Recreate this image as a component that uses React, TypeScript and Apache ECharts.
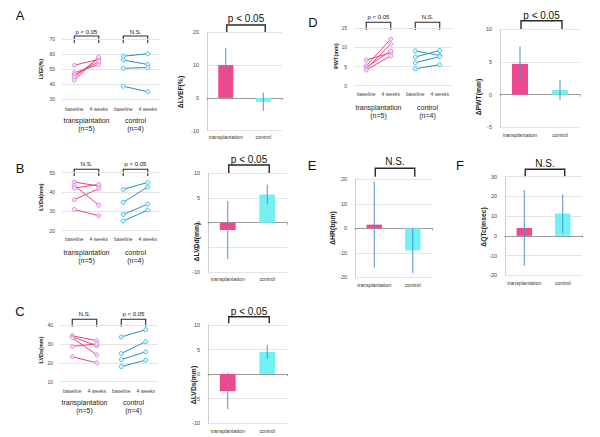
import React, { useEffect, useRef } from "react";
import * as echarts from "echarts";

// ---------- data ----------
const phaseLabels = ["baseline", "4 weeks", "baseline", "4 weeks"];
const groupLabels = ["transplantation\n(n=5)", "control\n(n=4)"];
const barCategories = ["transplantation", "control"];

// A: LVEF (%)
const lvefTransBaseline = [52.5, 47.5, 46.0, 44.5, 42.5];
const lvefTrans4w = [56.5, 53.0, 55.0, 57.5, 58.0];
const lvefCtrlBaseline = [58.5, 56.0, 50.5, 38.5];
const lvefCtrl4w = [60.2, 53.0, 51.0, 34.8];
const dLvefMean = [10.0, -1.2];
const dLvefErr = [5.3, 2.8];

// B: LVDd (mm)
const lvddTransBaseline = [45.1, 43.3, 41.9, 36.0, 31.0];
const lvddTrans4w = [43.0, 33.2, 43.9, 41.6, 27.7];
const lvddCtrlBaseline = [41.3, 34.6, 28.4, 25.0];
const lvddCtrl4w = [44.9, 42.6, 33.7, 30.6];
const dLvddMean = [-1.5, 5.7];
const dLvddErr = [5.9, 2.0];

// C: LVDs (mm)
const lvdsTransBaseline = [34.3, 33.8, 33.2, 28.7, 23.2];
const lvdsTrans4w = [31.7, 29.0, 24.2, 30.0, 20.0];
const lvdsCtrlBaseline = [33.7, 24.9, 21.7, 18.0];
const lvdsCtrl4w = [37.5, 31.2, 25.8, 21.4];
const dLvdsMean = [-3.5, 4.5];
const dLvdsErr = [3.7, 1.4];

// D: PWT (mm)
const pwtTransBaseline = [6.7, 5.2, 4.8, 4.4, 4.1];
const pwtTrans4w = [8.6, 12.2, 9.1, 10.9, 7.8];
const pwtCtrlBaseline = [9.1, 7.5, 6.0, 4.4];
const pwtCtrl4w = [7.9, 9.2, 7.6, 5.5];
const dPwtMean = [4.7, 0.7];
const dPwtErr = [2.7, 1.5];

// E: HR (bpm)
const dHrMean = [1.5, -9.0];
const dHrErr = [17.5, 9.3];

// F: QTc (msec)
const dQtcMean = [4.0, 11.3];
const dQtcErr = [19.3, 9.8];

// ---------- styles ----------
const FONT = "'Liberation Sans', Arial, sans-serif";
const TRANS_LINE = "#e6457c";
const TRANS_MARK = "#d890e2";
const TRANS_FILL = "#f6dcf6";
const CTRL_LINE = "#2b8cc6";
const CTRL_MARK = "#3cc6ea";
const CTRL_FILL = "#dcf5fc";
const BAR_COLORS = ["#f0488e", "#72f1f3"];
const ERR_COLOR = "#4d8fd0";
const GRID_COLOR = "#e4e4e4";

type Rect = { left: number; top: number; width: number; height: number };

export default function App() {
  const ref = useRef<HTMLDivElement>(null);

  useEffect(() => {
    const chart = echarts.init(ref.current!, null, { renderer: "svg" });
    const grid: any[] = [];
    const xAxis: any[] = [];
    const yAxis: any[] = [];
    const series: any[] = [];
    const graphic: any[] = [];

    const addText = (x: number, y: number, text: string, fontSize: number, opts: any = {}) => {
      graphic.push({
        type: "text",
        x,
        y,
        rotation: opts.rotation || 0,
        silent: true,
        style: {
          text,
          fontSize,
          fontFamily: FONT,
          fontWeight: opts.bold ? "bold" : "normal",
          fill: opts.color || "#111",
          align: "center",
          verticalAlign: "middle",
        },
      });
    };

    const addBracket = (x1: number, x2: number, top: number, bottom: number, label: string, textY: number, fontSize: number, lw: number) => {
      graphic.push({
        type: "polyline",
        silent: true,
        shape: { points: [[x1, bottom], [x1, top], [x2, top], [x2, bottom]] },
        style: { stroke: "#2a2a2a", lineWidth: lw, fill: null },
      });
      addText((x1 + x2) / 2, textY, label, fontSize);
    };

    const addLinePanel = (o: {
      rect: Rect; min: number; max: number; interval: number;
      tb: number[]; t4: number[]; cb: number[]; c4: number[];
      tickMargin: number; groupMargin: number;
      pTrans: string; pCtrl: string; bTop: number; bBottom: number; textY: number;
      title: string; titleX: number; titleY: number; titleSize: number;
    }) => {
      const gi = grid.length;
      grid.push({ ...o.rect, containLabel: false });
      const xi = xAxis.length;
      xAxis.push({
        gridIndex: gi, type: "category", data: phaseLabels, boundaryGap: true, position: "bottom",
        axisLine: { show: false, onZero: false }, axisTick: { show: false },
        axisLabel: { fontSize: 5, margin: o.tickMargin, interval: 0, color: "#444", fontFamily: FONT },
        splitLine: { show: false },
      });
      xAxis.push({
        gridIndex: gi, type: "category", data: groupLabels, boundaryGap: true, position: "bottom",
        axisLine: { show: false, onZero: false }, axisTick: { show: false },
        axisLabel: { fontSize: 7, lineHeight: 8, margin: o.groupMargin, interval: 0, color: "#222", fontFamily: FONT },
        splitLine: { show: false },
      });
      const yi = yAxis.length;
      yAxis.push({
        gridIndex: gi, type: "value", min: o.min, max: o.max, interval: o.interval,
        axisLine: { show: false }, axisTick: { show: false },
        axisLabel: { fontSize: 5, margin: 7, color: "#444", fontFamily: FONT },
        splitLine: { show: true, lineStyle: { color: GRID_COLOR, width: 1 } },
      });
      o.tb.forEach((v, i) => {
        series.push({
          type: "line", xAxisIndex: xi, yAxisIndex: yi, data: [[0, v], [1, o.t4[i]]],
          symbol: "circle", symbolSize: 4, showSymbol: true,
          lineStyle: { color: TRANS_LINE, width: 1 },
          itemStyle: { color: TRANS_FILL, borderColor: TRANS_MARK, borderWidth: 1 },
          z: 3, silent: true,
        });
      });
      o.cb.forEach((v, i) => {
        series.push({
          type: "line", xAxisIndex: xi, yAxisIndex: yi, data: [[2, v], [3, o.c4[i]]],
          symbol: "circle", symbolSize: 4, showSymbol: true,
          lineStyle: { color: CTRL_LINE, width: 1 },
          itemStyle: { color: CTRL_FILL, borderColor: CTRL_MARK, borderWidth: 1 },
          z: 3, silent: true,
        });
      });
      const band = o.rect.width / 4;
      const L = o.rect.left;
      addBracket(L + band * 0.5, L + band * 1.5, o.bTop, o.bBottom, o.pTrans, o.textY, 6, 1.1);
      addBracket(L + band * 2.5, L + band * 3.5, o.bTop, o.bBottom, o.pCtrl, o.textY, 6, 1.1);
      addText(o.titleX, o.titleY, o.title, o.titleSize, { rotation: Math.PI / 2, bold: true, color: "#222" });
    };

    const addBarPanel = (o: {
      rect: Rect; min: number; max: number; interval: number;
      mean: number[]; err: number[]; labelMargin: number;
      p: string; bTop: number; bBottom: number; textY: number;
      title: string; titleX: number; titleY: number;
    }) => {
      const gi = grid.length;
      grid.push({ ...o.rect, containLabel: false });
      const xi = xAxis.length;
      xAxis.push({
        gridIndex: gi, type: "category", data: barCategories, boundaryGap: true, position: "bottom",
        axisLine: { show: false, onZero: false }, axisTick: { show: false },
        axisLabel: { fontSize: 5.2, margin: o.labelMargin, interval: 0, color: "#333", fontFamily: FONT },
        splitLine: { show: false },
      });
      xAxis.push({
        gridIndex: gi, type: "category", data: barCategories, boundaryGap: true, position: "bottom",
        axisLine: { show: true, onZero: true, lineStyle: { color: "#9a9a9a", width: 1 } },
        axisTick: { show: true, length: 2, lineStyle: { color: "#9a9a9a" } },
        axisLabel: { show: false },
        splitLine: { show: false },
      });
      const yi = yAxis.length;
      yAxis.push({
        gridIndex: gi, type: "value", min: o.min, max: o.max, interval: o.interval,
        axisLine: { show: true, lineStyle: { color: "#cfcfcf", width: 1 } }, axisTick: { show: false },
        axisLabel: { fontSize: 5.5, margin: 8, color: "#444", fontFamily: FONT },
        splitLine: { show: true, lineStyle: { color: GRID_COLOR, width: 1 } },
      });
      series.push({
        type: "bar", xAxisIndex: xi, yAxisIndex: yi, barWidth: "40%", silent: true,
        data: o.mean.map((v, i) => ({ value: v, itemStyle: { color: BAR_COLORS[i] } })),
        z: 2,
      });
      series.push({
        type: "custom", xAxisIndex: xi, yAxisIndex: yi, silent: true, z: 4,
        data: o.mean.map((m, i) => [i, m - o.err[i], m + o.err[i]]),
        encode: { x: 0, y: [1, 2] },
        renderItem: (params: any, api: any) => {
          const lo = api.coord([api.value(0), api.value(1)]);
          const hi = api.coord([api.value(0), api.value(2)]);
          return {
            type: "line",
            shape: { x1: lo[0], y1: lo[1], x2: hi[0], y2: hi[1] },
            style: { stroke: ERR_COLOR, lineWidth: 1 },
          };
        },
      });
      const band = o.rect.width / 2;
      const L = o.rect.left;
      addBracket(L + band * 0.5 + 1, L + band * 1.5 + 2, o.bTop, o.bBottom, o.p, o.textY, 10, 1.4);
      addText(o.titleX, o.titleY, o.title, 6.8, { rotation: Math.PI / 2, bold: true, color: "#222" });
    };

    // ---- Panel A ----
    addLinePanel({
      rect: { left: 62, top: 39, width: 98, height: 60 }, min: 30, max: 70, interval: 10,
      tb: lvefTransBaseline, t4: lvefTrans4w, cb: lvefCtrlBaseline, c4: lvefCtrl4w,
      tickMargin: 7, groupMargin: 17, pTrans: "p < 0.05", pCtrl: "N.S.",
      bTop: 36, bBottom: 43, textY: 32, title: "LVEF(%)", titleX: 41, titleY: 69, titleSize: 5,
    });
    addBarPanel({
      rect: { left: 207, top: 32.3, width: 75, height: 98.4 }, min: -10, max: 20, interval: 10,
      mean: dLvefMean, err: dLvefErr, labelMargin: 4,
      p: "p < 0.05", bTop: 25, bBottom: 32.3, textY: 18.3, title: "ΔLVEF(%)", titleX: 180, titleY: 92,
    });

    // ---- Panel B ----
    addLinePanel({
      rect: { left: 62, top: 172.5, width: 98, height: 58.2 }, min: 20, max: 50, interval: 10,
      tb: lvddTransBaseline, t4: lvddTrans4w, cb: lvddCtrlBaseline, c4: lvddCtrl4w,
      tickMargin: 5.5, groupMargin: 18, pTrans: "N.S.", pCtrl: "p < 0.05",
      bTop: 169.3, bBottom: 176, textY: 164.3, title: "LVDd(mm)", titleX: 41, titleY: 197, titleSize: 5.5,
    });
    addBarPanel({
      rect: { left: 208, top: 173.3, width: 79, height: 98.7 }, min: -10, max: 10, interval: 5,
      mean: dLvddMean, err: dLvddErr, labelMargin: 4.5,
      p: "p < 0.05", bTop: 165, bBottom: 173.3, textY: 159.3, title: "ΔLVDd(mm)", titleX: 196, titleY: 242,
    });

    // ---- Panel C ----
    addLinePanel({
      rect: { left: 60, top: 325, width: 98, height: 56.7 }, min: 10, max: 40, interval: 10,
      tb: lvdsTransBaseline, t4: lvdsTrans4w, cb: lvdsCtrlBaseline, c4: lvdsCtrl4w,
      tickMargin: 6.5, groupMargin: 17, pTrans: "N.S.", pCtrl: "p < 0.05",
      bTop: 319.3, bBottom: 326.7, textY: 314.3, title: "LVDs(mm)", titleX: 41, titleY: 350, titleSize: 5.5,
    });
    addBarPanel({
      rect: { left: 208, top: 325, width: 79, height: 98 }, min: -10, max: 10, interval: 5,
      mean: dLvdsMean, err: dLvdsErr, labelMargin: 5.5,
      p: "p < 0.05", bTop: 316.7, bBottom: 323.3, textY: 311, title: "ΔLVDs(mm)", titleX: 193, titleY: 385,
    });

    // ---- Panel D ----
    addLinePanel({
      rect: { left: 354, top: 28.3, width: 98, height: 57.4 }, min: 0, max: 15, interval: 5,
      tb: pwtTransBaseline, t4: pwtTrans4w, cb: pwtCtrlBaseline, c4: pwtCtrl4w,
      tickMargin: 5.5, groupMargin: 18, pTrans: "p < 0.05", pCtrl: "N.S.",
      bTop: 22.3, bBottom: 30, textY: 16.7, title: "PWT(mm)", titleX: 336, titleY: 56, titleSize: 5.5,
    });
    addBarPanel({
      rect: { left: 500, top: 29.3, width: 80, height: 98 }, min: -5, max: 10, interval: 5,
      mean: dPwtMean, err: dPwtErr, labelMargin: 5,
      p: "p < 0.05", bTop: 20.7, bBottom: 30, textY: 15, title: "ΔPWT(mm)", titleX: 478, titleY: 97,
    });

    // ---- Panel E ----
    addBarPanel({
      rect: { left: 355, top: 179.3, width: 77, height: 98 }, min: -20, max: 20, interval: 10,
      mean: dHrMean, err: dHrErr, labelMargin: 5,
      p: "N.S.", bTop: 168.3, bBottom: 176.7, textY: 161.7, title: "ΔHR(bpm)", titleX: 332, titleY: 228,
    });

    // ---- Panel F ----
    addBarPanel({
      rect: { left: 505, top: 176.7, width: 77, height: 98.6 }, min: -20, max: 30, interval: 10,
      mean: dQtcMean, err: dQtcErr, labelMargin: 5,
      p: "N.S.", bTop: 169.3, bBottom: 177.3, textY: 163.3, title: "ΔQTc(msec)", titleX: 483, titleY: 227,
    });

    // panel letters
    addText(20, 15, "A", 13);
    addText(20, 168, "B", 13);
    addText(20, 311, "C", 13);
    addText(313, 22, "D", 13);
    addText(312, 165, "E", 13);
    addText(460, 165, "F", 13);

    chart.setOption({
      animation: false,
      backgroundColor: "#ffffff",
      textStyle: { fontFamily: FONT },
      grid,
      xAxis,
      yAxis,
      series,
      graphic,
    });

    return () => chart.dispose();
  }, []);

  return (
    <div
      ref={ref}
      style={{ position: "absolute", left: 0, top: 0, width: 600, height: 437, background: "#fff" }}
    />
  );
}
